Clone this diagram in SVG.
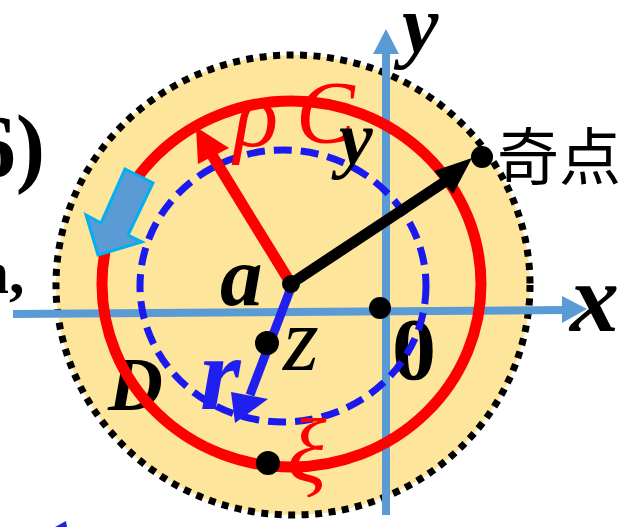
<svg xmlns="http://www.w3.org/2000/svg" width="641" height="527" viewBox="0 0 641 527">
<style>
.m{font-family:"Liberation Serif","Times New Roman",serif;font-style:italic;font-weight:bold}
.mi{font-family:"Liberation Serif","Times New Roman",serif;font-style:italic}
.up{font-family:"Liberation Serif","Times New Roman",serif;font-weight:bold}
.cjk{font-family:"Noto Sans CJK SC",sans-serif}
.axis{stroke:#5B9BD5;stroke-width:8;fill:none}
.dot{fill:#000}
</style>
<rect width="641" height="527" fill="#fff"/>
<g id="cropped-text">
<text class="up" x="45" y="176" font-size="88" text-anchor="end">(6)</text>
<text class="up" x="-22" y="293" font-size="62">a,</text>
<polygon points="55,527 66,521 67,527" fill="#1F1FF0"/>
</g>
<g id="region-D">
<ellipse cx="293" cy="285" rx="237" ry="230" fill="#FDE59B" stroke="#000" stroke-width="7" stroke-dasharray="7 6.5"/>
</g>
<g id="axes">
<line class="axis" x1="13" y1="314" x2="565" y2="310"/>
<polygon points="587,309 562,296 562,323" fill="#5B9BD5"/>
<line class="axis" x1="386" y1="515" x2="386" y2="50"/>
<polygon points="386,29 373,54 399,54" fill="#5B9BD5"/>
</g>
<g id="label-D"><text class="m" x="108" y="410" font-size="76">D</text></g>
<g id="label-0"><text class="up" x="392" y="379" font-size="88">0</text></g>
<g id="contour-C">
<ellipse cx="291.5" cy="284" rx="189.5" ry="183" fill="none" stroke="#FF0000" stroke-width="11"/>
</g>
<g id="circle-r">
<ellipse cx="283" cy="286" rx="143" ry="136" fill="none" stroke="#1A1AF0" stroke-width="7" stroke-dasharray="18 9"/>
</g>
<g id="direction-arrow">
<polygon points="125,169 153,183 128,235 142,242 98,255 86,215 101,223" fill="#5B9BD5" stroke="#00B0F0" stroke-width="3" stroke-linejoin="miter"/>
</g>
<g id="connectors">
<line x1="290" y1="282" x2="212" y2="155" stroke="#FF0000" stroke-width="11"/>
<polygon points="196,127 198,164 229,148" fill="#FF0000"/>
<line x1="292" y1="285" x2="250" y2="395" stroke="#1F1FF0" stroke-width="9"/>
<polygon points="235,423 231,392 268,399" fill="#1F1FF0"/>
<line x1="292" y1="283" x2="446" y2="181" stroke="#000" stroke-width="11"/>
<polygon points="472,158 434,171 453,194" fill="#000"/>
</g>
<g id="point-a"><circle class="dot" cx="291" cy="284" r="9"/><text class="m" x="220" y="305" font-size="85">a</text></g>
<g id="point-z"><circle class="dot" cx="267" cy="343" r="12"/><text class="mi" x="283" y="370" font-size="92">z</text></g>
<g id="point-origin"><circle class="dot" cx="380" cy="308" r="11"/></g>
<g id="point-xi"><circle class="dot" cx="268" cy="463" r="12"/><text class="mi" x="287" y="482" font-size="92" fill="#FF0000">ξ</text></g>
<g id="point-singular"><circle class="dot" cx="482" cy="157" r="11"/><text class="cjk" x="497" y="180" font-size="62">奇点</text></g>
<g id="labels">
<text class="m" x="200" y="409" font-size="104" fill="#1F1FF0">r</text>
<text class="mi" x="234" y="146" font-size="92" fill="#FF0000">ρ</text>
<text class="mi" x="296" y="142" font-size="88" fill="#FF0000">C</text>
<text class="m" x="339" y="164" font-size="76">y</text>
<text class="m" x="402" y="52" font-size="82">y</text>
<text class="m" x="570" y="331" font-size="98">x</text>
</g>
</svg>
